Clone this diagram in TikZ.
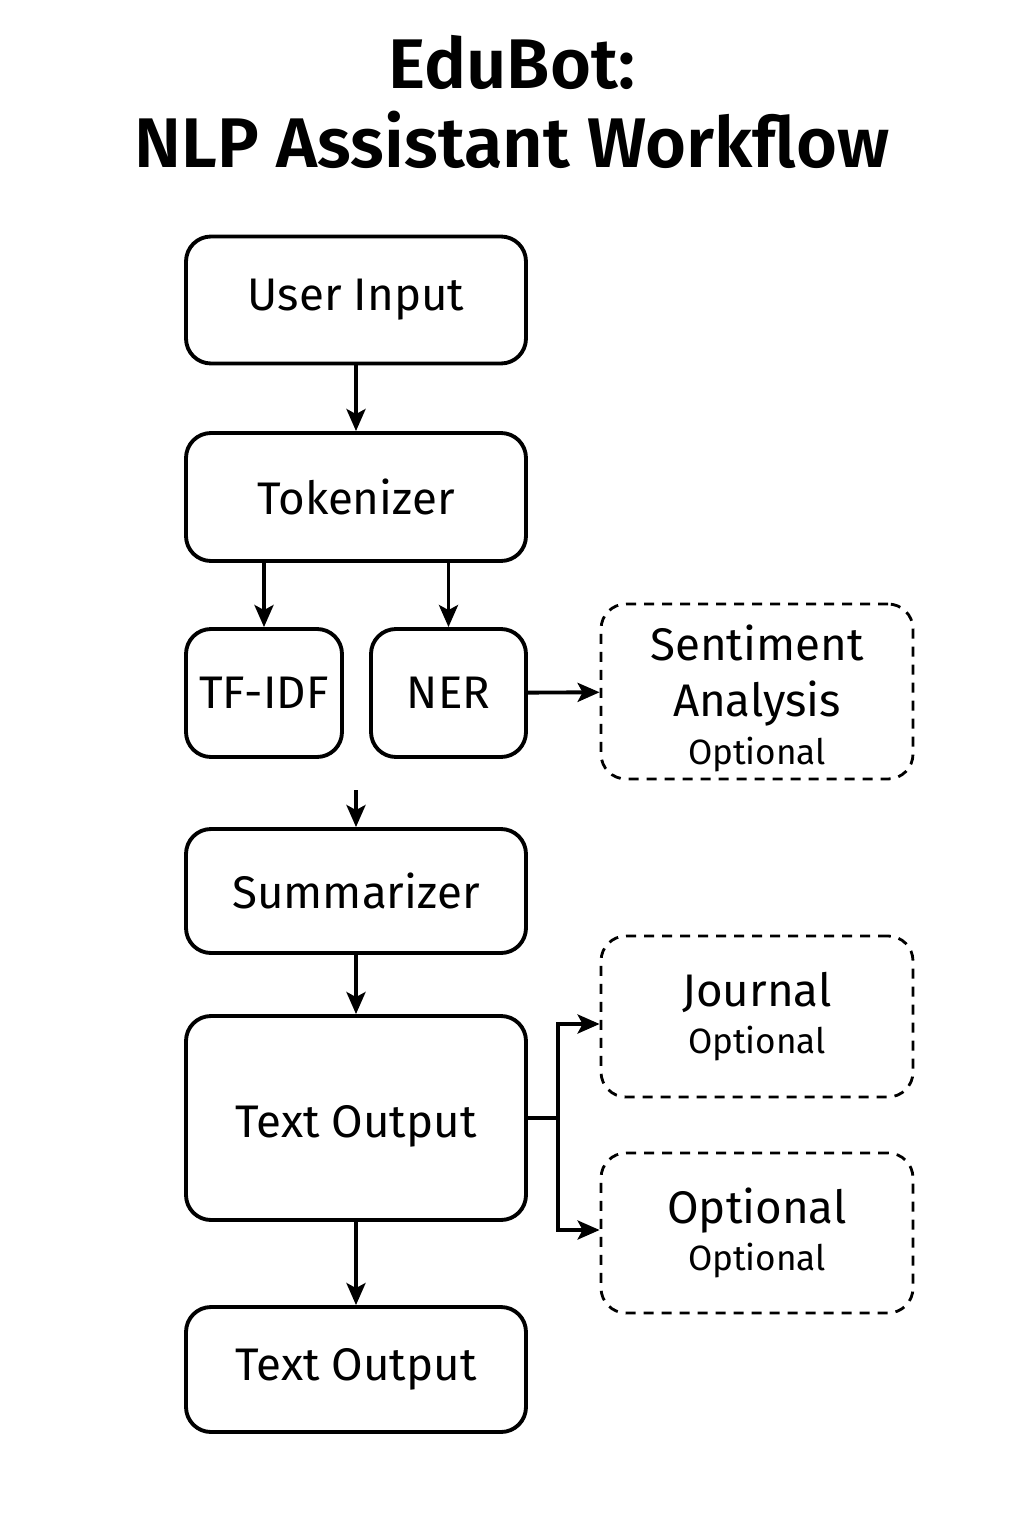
\documentclass[tikz,border=0pt]{standalone}
\usepackage{fontspec}
\setmainfont{Fira Sans}
\newfontfamily\titlefont{Fira Sans SemiBold}
\usetikzlibrary{arrows.meta}
\tikzset{
  block/.style={draw, line width=1.1pt, rounded corners=0.25cm, align=center, font=\fontsize{13}{16}\selectfont},
  optblock/.style={block, line width=0.8pt, dash pattern=on 0.1cm off 0.08cm},
  arr/.style={-{Stealth[length=2.2mm,width=1.9mm,inset=0.5mm]}, line width=1.1pt},
  conn/.style={line width=1.1pt},
}
\newcommand{\optnote}{\fontsize{10}{12}\selectfont Optional}
\begin{document}
\begin{tikzpicture}
\useasboundingbox (0,0) rectangle (10.24,-15.36);
\node[font=\titlefont\fontsize{20}{24}\selectfont, align=center] (title) at (5.12,-1.02){EduBot:\\[-0.05cm]NLP Assistant Workflow};
\node[block, minimum width=3.40cm, minimum height=1.27cm] (input) at (3.56,-3.00){User Input};
\node[block, minimum width=3.40cm, minimum height=1.28cm] (tok) at (3.56,-4.97){Tokenizer};
\node[block, minimum width=1.56cm, minimum height=1.28cm] (tfidf) at (2.64,-6.93){TF-IDF};
\node[block, minimum width=1.55cm, minimum height=1.28cm] (ner) at (4.485,-6.93){NER};
\node[optblock, inner ysep=1pt, minimum width=3.12cm, minimum height=1.75cm] (senti) at (7.57,-6.915){\rule{0pt}{0.5cm}Sentiment\\[0cm]Analysis\\[-0.08cm]\optnote};
\node[block, minimum width=3.40cm, minimum height=1.24cm] (summ) at (3.56,-8.91){Summarizer};
\node[block, minimum width=3.40cm, minimum height=2.04cm] (out) at (3.56,-11.18){\rule{0pt}{0.48cm}Text Output};
\node[optblock, minimum width=3.12cm, minimum height=1.61cm] (journal) at (7.57,-10.165){Journal\\[-0.1cm]\optnote};
\node[optblock, minimum width=3.12cm, minimum height=1.60cm] (opt) at (7.57,-12.33){Optional\\[-0.1cm]\optnote};
\node[block, minimum width=3.40cm, minimum height=1.25cm] (final) at (3.56,-13.695){Text Output};
\coordinate (mid) at (3.56,-7.90);
\coordinate (split) at (5.58,-11.18);
\draw[arr] (input) -- (tok);
\draw[arr] (tfidf.north |- tok.south) -- (tfidf.north);
\draw[arr] (ner.north |- tok.south) -- (ner.north);
\draw[arr] (ner) -- (senti);
\draw[arr] (mid) -- (summ);
\draw[arr] (summ) -- (out);
\draw[conn] (out.east) -- (split);
\draw[arr] (split) |- ([yshift=-0.075cm]journal.west);
\draw[arr] (split) |- ([yshift=0.03cm]opt.west);
\draw[arr] (out) -- (final);
\end{tikzpicture}
\end{document}
